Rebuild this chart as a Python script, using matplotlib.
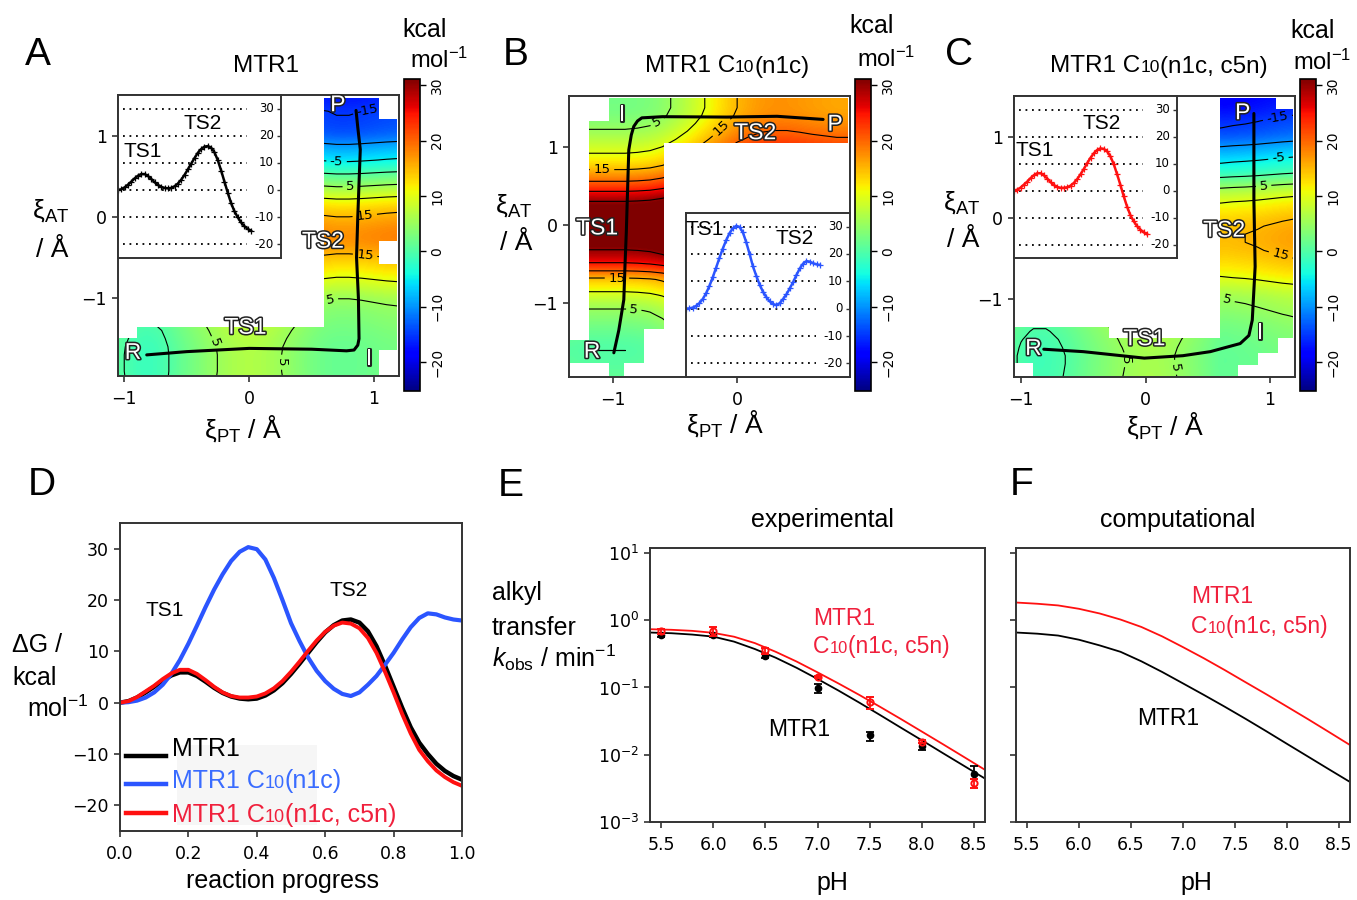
import numpy as np
import matplotlib
matplotlib.use('Agg')
import matplotlib.pyplot as plt
import matplotlib.patheffects as pe
from matplotlib.path import Path
from matplotlib.patches import PathPatch, Rectangle
from matplotlib.colors import Normalize
from matplotlib.cm import ScalarMappable
from matplotlib.transforms import IdentityTransform, blended_transform_factory
from matplotlib.ticker import NullLocator

plt.rcParams['mathtext.fontset'] = 'custom'
plt.rcParams['mathtext.rm'] = 'Liberation Sans'
plt.rcParams['mathtext.it'] = 'Liberation Sans:italic'
plt.rcParams['mathtext.bf'] = 'Liberation Sans:bold'
plt.rcParams['mathtext.default'] = 'regular'

SANS = ['Liberation Sans', 'DejaVu Sans']
W, H = 1357, 900
BLUE = '#2b55ff'
RED = '#ff1010'
RED_TXT = '#f0203c'
EDGE = '#333333'

# ---- free energy profiles (panel D and the insets) ----
D_x = np.linspace(0, 1, 41)
D_mtr1 = [0.0, 0.3, 1.0, 2.0, 3.1, 4.3, 5.3, 5.9, 5.9, 5.2, 4.1, 2.9, 1.9, 1.2, 0.8, 0.66, 0.8,
          1.4, 2.4, 3.8, 5.6, 7.6, 9.7, 11.8, 13.7, 15.1, 16.0, 16.2, 15.6, 13.9, 11.0, 7.2, 3.1,
          -1.0, -4.8, -7.8, -10.0, -11.9, -13.3, -14.3, -15.0]
D_n1c = [0.0, 0.1, 0.4, 1.0, 2.0, 3.5, 5.6, 8.3, 11.5, 15.0, 18.6, 22.0, 25.0, 27.6, 29.4, 30.3,
         29.9, 27.9, 24.3, 20.0, 15.5, 12.0, 8.8, 6.2, 4.2, 2.7, 1.7, 1.3, 2.0, 3.5, 5.2, 7.4, 9.7,
         12.3, 14.7, 16.5, 17.4, 17.2, 16.6, 16.2, 16.0]
D_c5n = [0.0, 0.3, 1.1, 2.2, 3.3, 4.6, 5.7, 6.4, 6.4, 5.6, 4.4, 3.1, 2.0, 1.3, 1.0, 1.0, 1.2,
         1.8, 2.8, 4.2, 6.0, 8.0, 10.1, 12.1, 13.8, 15.0, 15.6, 15.4, 14.5, 12.6, 9.7, 6.0, 2.0,
         -2.2, -6.0, -9.2, -11.4, -13.2, -14.5, -15.5, -16.2]
GRID_LEVELS = [-20, -10, 0, 10, 20, 30]

# ---- 2D surfaces: energy = V(y) + Hx(x), read along the strips ----
A_xs = np.linspace(-1.1, 1.2, 24)
A_ys = np.linspace(-2.0, 1.5, 36)
A_V = [1.6, 1.5, 1.5, 1.5, 1.6, 1.9, 2.3, 2.8, 3.3, 4.0, 5.1, 7.0, 9.0, 10.8, 12.5, 14.2, 16.0,
       17.3, 17.3, 16.5, 15.0, 13.2, 10.6, 7.4, 4.0, 1.0, -2.6, -5.6, -7.8, -10.2, -13.0, -14.3,
       -14.8, -15.2, -16.5, -17.0]
A_H = [-0.5, -1.5, -2.7, -3.0, -2.3, -0.9, 0.5, 1.7, 3.0, 4.1, 4.8, 5.1, 4.8, 4.1, 3.1, 2.1, 1.1,
       0.3, 0.0, 0.0, 0.2, 0.5, 0.8, 1.0]
A_region = [(-1.05, -1.96), (-1.05, -1.49), (-0.9, -1.49), (-0.9, -1.36), (0.6, -1.36), (0.6, 1.46),
            (1.04, 1.46), (1.04, 1.2), (1.18, 1.2), (1.18, -0.3), (1.04, -0.3), (1.04, -0.58),
            (1.18, -0.58), (1.18, -1.64), (1.04, -1.64), (1.04, -1.96)]
A_path_x = [-0.82, -0.5, 0.0, 0.5, 0.78, 0.84, 0.87, 0.88, 0.875, 0.86, 0.87, 0.89, 0.87, 0.856]
A_path_y = [-1.70, -1.66, -1.62, -1.63, -1.65, -1.64, -1.58, -1.50, -1.0, -0.5, 0.0, 0.83, 1.1, 1.31]
A_clabels = [(0.94, 1.38), (0.70, 0.675), (0.81, 0.37), (0.93, -0.04), (0.93, -0.45), (0.65, -1.01),
             (-0.22, -1.52), (0.25, -1.79)]
A_names = [('R', -0.93, -1.67), ('I', 0.96, -1.74), ('P', 0.71, 1.38), ('TS1', -0.03, -1.36),
           ('TS2', 0.59, -0.30)]

B_xs = np.linspace(-1.4, 0.9, 24)
B_ys = np.linspace(-2.0, 1.7, 38)
B_V = [1.5, 1.0, 0.5, 0.2, 0.0, 0.4, 1.2, 2.3, 3.5, 4.6, 6.5, 8.8, 11.6, 14.0, 19.5, 24.5, 28.0,
       30.5, 32.5, 33.5, 34.0, 33.5, 32.0, 30.0, 26.2, 22.0, 18.5, 15.2, 12.4, 10.3, 8.5, 6.8, 5.3,
       4.0, 3.0, 2.5, 2.5, 2.5]
B_H = [0.5, 0.3, 0.0, 0.0, 0.0, 0.0, 0.2, 0.6, 1.5, 3.0, 4.7, 6.7, 8.7, 10.7, 12.5, 13.7, 14.5,
       14.8, 14.8, 14.5, 14.1, 13.8, 13.5, 13.5]
B_region = [(-1.19, 1.33), (-1.03, 1.33), (-1.03, 1.62), (0.888, 1.62), (0.888, 1.05), (-0.59, 1.05),
            (-0.59, -1.34), (-0.75, -1.34), (-0.75, -1.77), (-0.906, -1.77), (-0.906, -1.94),
            (-1.03, -1.94), (-1.03, -1.77), (-1.34, -1.77), (-1.34, -1.48), (-1.19, -1.48)]
B_path_x = [-0.99, -0.95, -0.91, -0.90, -0.89, -0.87, -0.85, -0.83, -0.80, -0.765, -0.6, -0.083, 0.32, 0.69]
B_path_y = [-1.64, -1.35, -0.96, -0.5, -0.1, 0.96, 1.15, 1.26, 1.33, 1.37, 1.385, 1.38, 1.39, 1.35]
B_clabels = [(-0.62, 1.26), (-1.085, 0.68), (-0.965, -0.68), (-0.83, -1.09), (-0.11, 1.22)]
B_names = [('I', -0.925, 1.41), ('TS2', 0.144, 1.18), ('P', 0.786, 1.29), ('TS1', -1.125, -0.04),
           ('R', -1.165, -1.62)]

C_xs = np.linspace(-1.1, 1.2, 24)
C_ys = np.linspace(-2.0, 1.5, 36)
C_V = [1.5, 1.4, 1.3, 1.3, 1.5, 1.8, 2.2, 2.8, 3.6, 4.5, 5.2, 6.8, 8.8, 10.7, 12.2, 13.4, 14.3,
       14.8, 14.8, 14.3, 13.3, 11.8, 10.0, 7.6, 4.2, 0.3, -3.2, -5.2, -7.8, -10.2, -13.0, -14.6,
       -15.6, -17.0, -18.0, -18.5]
C_H = [-0.4, -1.7, -2.4, -2.4, -1.8, -0.9, 0.3, 1.4, 2.4, 3.4, 4.2, 4.7, 4.6, 4.0, 3.1, 2.1, 1.0,
       -0.3, 0.0, 0.2, 0.5, 0.9, 1.3, 1.6]
C_region = [(-1.056, -1.786), (-1.056, -1.34), (-0.295, -1.34), (-0.295, -1.48), (0.6, -1.48),
            (0.6, 1.48), (1.05, 1.48), (1.05, 1.35), (1.18, 1.35), (1.18, -1.485), (1.06, -1.485),
            (1.06, -1.67), (0.9, -1.67), (0.9, -1.815), (0.74, -1.815), (0.74, -1.97), (-0.9, -1.97),
            (-0.9, -1.786)]
C_path_x = [-0.817, -0.5, -0.01, 0.3, 0.52, 0.76, 0.83, 0.857, 0.88, 0.87, 0.87]
C_path_y = [-1.62, -1.65, -1.73, -1.70, -1.65, -1.55, -1.45, -1.26, -0.6, 0.22, 1.29]
C_clabels = [(1.06, 1.23), (1.07, 0.69), (0.95, 0.36), (1.08, -0.48), (0.66, -0.99), (-0.19, -1.75),
             (0.25, -1.84)]
C_names = [('P', 0.78, 1.30), ('TS2', 0.63, -0.15), ('TS1', -0.01, -1.49), ('R', -0.9, -1.61),
           ('I', 0.92, -1.41)]

# ---- rates (panels E and F) ----
E_ph = [5.5, 6.0, 6.5, 7.0, 7.5, 8.0, 8.5]
E_mtr1 = [0.60, 0.60, 0.295, 0.098, 0.0195, 0.0136, 0.00515]
E_mtr1_lo = [0.56, 0.56, 0.275, 0.082, 0.0162, 0.0118, 0.0044]
E_mtr1_hi = [0.63, 0.64, 0.315, 0.112, 0.0221, 0.0152, 0.00684]
E_c5n = [0.68, 0.68, 0.36, 0.144, 0.061, 0.0156, 0.0038]
E_c5n_lo = [0.62, 0.585, 0.313, 0.138, 0.0477, 0.0148, 0.00318]
E_c5n_hi = [0.75, 0.78, 0.386, 0.150, 0.0727, 0.0165, 0.0044]
fit_ph = np.linspace(5.4, 8.6, 17)
E_fit_mtr1 = [0.656, 0.641, 0.612, 0.571, 0.481, 0.373, 0.277, 0.196, 0.134, 0.0902, 0.0596,
              0.0389, 0.0252, 0.0164, 0.0106, 0.00689, 0.00447]
E_fit_c5n = [0.735, 0.721, 0.695, 0.650, 0.569, 0.457, 0.339, 0.243, 0.168, 0.115, 0.0776,
             0.0515, 0.0339, 0.0221, 0.0144, 0.00933, 0.00603]
F_mtr1 = [0.656, 0.631, 0.592, 0.513, 0.422, 0.339, 0.245, 0.170, 0.115, 0.0776, 0.0519,
          0.0343, 0.0224, 0.0145, 0.00942, 0.00611, 0.00398]
F_c5n = [1.832, 1.758, 1.660, 1.479, 1.259, 1.023, 0.794, 0.575, 0.398, 0.272, 0.182, 0.120,
         0.0794, 0.0519, 0.0339, 0.0219, 0.0141]

NORM = Normalize(vmin=-25.2, vmax=31.1)
LEVELS = np.arange(-20, 35, 5)

fig = plt.figure(figsize=(W / 100, H / 100), dpi=100)


def box(l, t, r, b):
    return [l / W, 1 - b / H, (r - l) / W, (b - t) / H]


def ftext(px, py, s, size, **kw):
    return fig.text(px / W, 1 - py / H, s, fontsize=size, family=SANS, **kw)


def rich(px, py, parts, size, color='k', ha='left'):
    # text pieces in a row, baseline at py (pixels from top)
    r = fig.canvas.get_renderer()
    items = []
    for s, sc in parts:
        t = fig.text(0, 0, s, fontsize=size * sc, color=color, family=SANS,
                     va='baseline', ha='left', transform=IdentityTransform())
        items.append((t, t.get_window_extent(r).width))
    x = px
    if ha == 'center':
        x -= sum(w for _, w in items) / 2
    for t, w in items:
        t.set_position((x, H - py))
        x += w


def style(ax):
    for s in ax.spines.values():
        s.set_linewidth(1.4)
        s.set_color(EDGE)
    ax.tick_params(labelsize=12.5, length=4.5, width=1.2, color=EDGE)
    ax.tick_params(axis='x', pad=5.5)


def surface(rect, xs, ys, V, Hx, region, path_x, path_y, xlim, ylim, xticks, clabels, names):
    ax = fig.add_axes(rect)
    Z = np.add.outer(np.array(V), np.array(Hx))
    d = 0.1
    clip = PathPatch(Path(region + [region[0]], closed=True), transform=ax.transData,
                     facecolor='none', edgecolor='none')
    im = ax.imshow(Z, origin='lower', extent=[xs[0] - d / 2, xs[-1] + d / 2, ys[0] - d / 2, ys[-1] + d / 2],
                   cmap='jet', norm=NORM, interpolation='bicubic', aspect='auto')
    im.set_clip_path(clip)
    cs = ax.contour(xs, ys, Z, levels=LEVELS, colors='k', linewidths=0.8, negative_linestyles='solid')
    cs.set_clip_path(clip)
    ax.clabel(cs, manual=clabels, fmt='%d', fontsize=9.5, inline=True, inline_spacing=3)
    ax.plot(path_x, path_y, color='k', lw=2.2, solid_capstyle='round', zorder=4)
    for s, x, y in names:
        ax.text(x, y, s, color='white', fontsize=16.5, family=SANS, ha='center', va='center', zorder=6,
                path_effects=[pe.withStroke(linewidth=2.2, foreground='#222222')])
    ax.set_xlim(xlim)
    ax.set_ylim(ylim)
    ax.set_xticks(xticks)
    ax.set_yticks([-1, 0, 1])
    style(ax)
    return ax


def inset(rect, curve, color, ts):
    ai = fig.add_axes(rect)
    ai.hlines(GRID_LEVELS, 0.04, 0.97, colors='k', linestyles=(0, (1, 2.6)), lw=1.3)
    ai.plot(D_x, curve, color=color, lw=1.8, marker='+', ms=4, mew=0.9)
    ai.set_xlim(0, 1.225)
    ai.set_ylim(-25, 35)
    ai.set_xticks([])
    ai.set_yticks(GRID_LEVELS)
    ai.tick_params(axis='y', left=False, right=True, direction='in', labelleft=False,
                   length=3, width=1, color=EDGE)
    tr = blended_transform_factory(ai.transAxes, ai.transData)
    for v in GRID_LEVELS:
        ai.text(0.957, v, str(v), transform=tr, ha='right', va='center', fontsize=8.5)
    for s, x, y in ts:
        ai.text(x, y, s, fontsize=15, family=SANS, ha='center', va='center')
    for s in ai.spines.values():
        s.set_linewidth(1.4)
        s.set_color(EDGE)


def cbar(rect):
    cax = fig.add_axes(rect)
    cb = fig.colorbar(ScalarMappable(norm=NORM, cmap='jet'), cax=cax)
    cb.set_ticks(GRID_LEVELS)
    cax.tick_params(labelsize=10, length=4, width=1, labelrotation=90)
    cb.outline.set_linewidth(1.2)
    for t in cax.get_yticklabels():
        t.set_va('center')


# ---- row 1: surfaces ----
surface(box(118, 95, 399, 376), A_xs, A_ys, A_V, A_H, A_region, A_path_x, A_path_y,
        (-1.05, 1.2), (-1.96, 1.5), [-1, 0, 1], A_clabels, A_names)
inset(box(118, 95, 281, 258), D_mtr1, 'k', [('TS1', 0.188, 14.2), ('TS2', 0.637, 24.5)])
cbar(box(404, 79, 420, 391))

surface(box(569, 96, 850, 377), B_xs, B_ys, B_V, B_H, B_region, B_path_x, B_path_y,
        (-1.35, 0.906), (-1.95, 1.65), [-1, 0], B_clabels, B_names)
inset(box(686, 213, 850, 377), D_n1c, BLUE, [('TS1', 0.143, 29.0), ('TS2', 0.81, 25.8)])
cbar(box(855, 79, 871, 391))

surface(box(1014, 96, 1295, 377), C_xs, C_ys, C_V, C_H, C_region, C_path_x, C_path_y,
        (-1.056, 1.2), (-1.963, 1.506), [-1, 0, 1], C_clabels, C_names)
inset(box(1014, 96, 1177, 258), D_c5n, RED, [('TS1', 0.158, 15.0), ('TS2', 0.66, 24.8)])
cbar(box(1300, 79, 1316, 391))

rich(266, 72.5, [('MTR1', 1)], 17.5, ha='center')
rich(727, 72.5, [('MTR1 C', 1), ('10', 0.72), ('(n1c)', 1)], 17.5, ha='center')
rich(1159, 72.5, [('MTR1 C', 1), ('10', 0.72), ('(n1c, c5n)', 1)], 17.5, ha='center')

for kx, mx, ky, my in [(402, 410, 36.7, 68), (849, 857, 33.3, 66.7), (1290, 1293, 38.3, 70)]:
    ftext(kx, ky, 'kcal', 18, va='baseline')
    ftext(mx, my, 'mol$^{-1}$', 17, va='baseline')

for cx, by, cx2, by2 in [(51, 218, 52, 257), (514, 213, 516, 250), (962, 210, 963, 247)]:
    ftext(cx, by, 'ξ$_{AT}$', 19, ha='center', va='baseline')
    ftext(cx2, by2, '/ Å', 19, ha='center', va='baseline')
for cx, by in [(243, 438), (725, 433), (1165, 435)]:
    ftext(cx, by, 'ξ$_{PT}$ / Å', 19, ha='center', va='baseline')

for s, x, y in [('A', 25, 65), ('B', 503, 65), ('C', 945, 65), ('D', 28, 495), ('E', 498, 496),
                ('F', 1010, 495)]:
    ftext(x, y, s, 28, va='baseline')

# ---- D: profiles ----
axD = fig.add_axes(box(120, 523, 462, 831))
axD.add_patch(Rectangle((0.1667, 0.0195), 0.409, 0.26, transform=axD.transAxes,
                        facecolor='#f6f6f6', edgecolor='none', zorder=0.5))
axD.plot(D_x, D_mtr1, color='k', lw=3.2)
axD.plot(D_x, D_n1c, color=BLUE, lw=3)
axD.plot(D_x, D_c5n, color=RED, lw=2.8)
axD.set_xlim(0, 1)
axD.set_ylim(-25, 35)
axD.set_xticks(np.linspace(0, 1, 6))
axD.set_yticks([-20, -10, 0, 10, 20, 30])
style(axD)
for yy, c in [(0.2435, 'k'), (0.1526, BLUE), (0.0584, RED)]:
    axD.plot([0.0175, 0.1345], [yy, yy], transform=axD.transAxes, color=c, lw=3.2, clip_on=False)
rich(172, 756, [('MTR1', 1)], 18)
rich(172, 788, [('MTR1 C', 1), ('10', 0.72), ('(n1c)', 1)], 18, color='#3a6cff')
rich(172, 821.7, [('MTR1 C', 1), ('10', 0.72), ('(n1c, c5n)', 1)], 18, color=RED_TXT)
ftext(165, 610, 'TS1', 15, ha='center', va='center')
ftext(349, 591, 'TS2', 15, ha='center', va='center')
ftext(12, 652, 'ΔG /', 18, va='baseline')
ftext(12, 685, 'kcal', 18, va='baseline')
ftext(27, 716.7, 'mol$^{-1}$', 18, va='baseline')
ftext(282, 888, 'reaction progress', 18, ha='center', va='baseline')

# ---- E and F: rates ----
axE = fig.add_axes(box(650, 548, 985, 822))
axF = fig.add_axes(box(1016, 548, 1350, 822))
for ax in (axE, axF):
    ax.set_yscale('log')
    ax.set_xlim(5.395, 8.605)
    ax.set_ylim(1e-3, 10 ** 1.074)
    ax.set_xticks([5.5, 6.0, 6.5, 7.0, 7.5, 8.0, 8.5])
    ax.set_yticks([1e-3, 1e-2, 1e-1, 1e0, 1e1])
    ax.yaxis.set_minor_locator(NullLocator())
    style(ax)
axF.set_yticklabels([])

axE.plot(fit_ph, E_fit_mtr1, color='k', lw=1.3)
axE.plot(fit_ph, E_fit_c5n, color=RED, lw=1.3)
m1 = np.array(E_mtr1)
c5 = np.array(E_c5n)
axE.errorbar(E_ph, m1, yerr=[m1 - np.array(E_mtr1_lo), np.array(E_mtr1_hi) - m1], fmt='o', color='k',
             ms=4.5, capsize=3, elinewidth=1.3, capthick=1.3, zorder=3)
axE.errorbar(E_ph, c5, yerr=[c5 - np.array(E_c5n_lo), np.array(E_c5n_hi) - c5], fmt='o', color=RED,
             mfc='none', mec=RED, mew=1.4, ms=4.5, capsize=3, elinewidth=1.3, capthick=1.3, zorder=4)
axF.plot(fit_ph, F_mtr1, color='k', lw=1.3)
axF.plot(fit_ph, F_c5n, color=RED, lw=1.3)

rich(813, 625, [('MTR1', 1)], 16.5, color=RED_TXT)
rich(813, 653, [('C', 1), ('10', 0.72), ('(n1c, c5n)', 1)], 16.5, color=RED_TXT)
rich(768, 736, [('MTR1', 1)], 16.5)
rich(1191, 603, [('MTR1', 1)], 16.5, color=RED_TXT)
rich(1191, 633, [('C', 1), ('10', 0.72), ('(n1c, c5n)', 1)], 16.5, color=RED_TXT)
rich(1137, 725, [('MTR1', 1)], 16.5)

ftext(822, 526.7, 'experimental', 18, ha='center', va='baseline')
ftext(1177.5, 526.7, 'computational', 18, ha='center', va='baseline')
ftext(832, 890, 'pH', 18, ha='center', va='baseline')
ftext(1196, 890, 'pH', 18, ha='center', va='baseline')
ftext(492, 600, 'alkyl', 18, va='baseline')
ftext(492, 635, 'transfer', 18, va='baseline')
ftext(492, 666.7, '$\\mathit{k}_{obs}$ / min$^{-1}$', 18, va='baseline')

fig.savefig('out.png', dpi=100)
